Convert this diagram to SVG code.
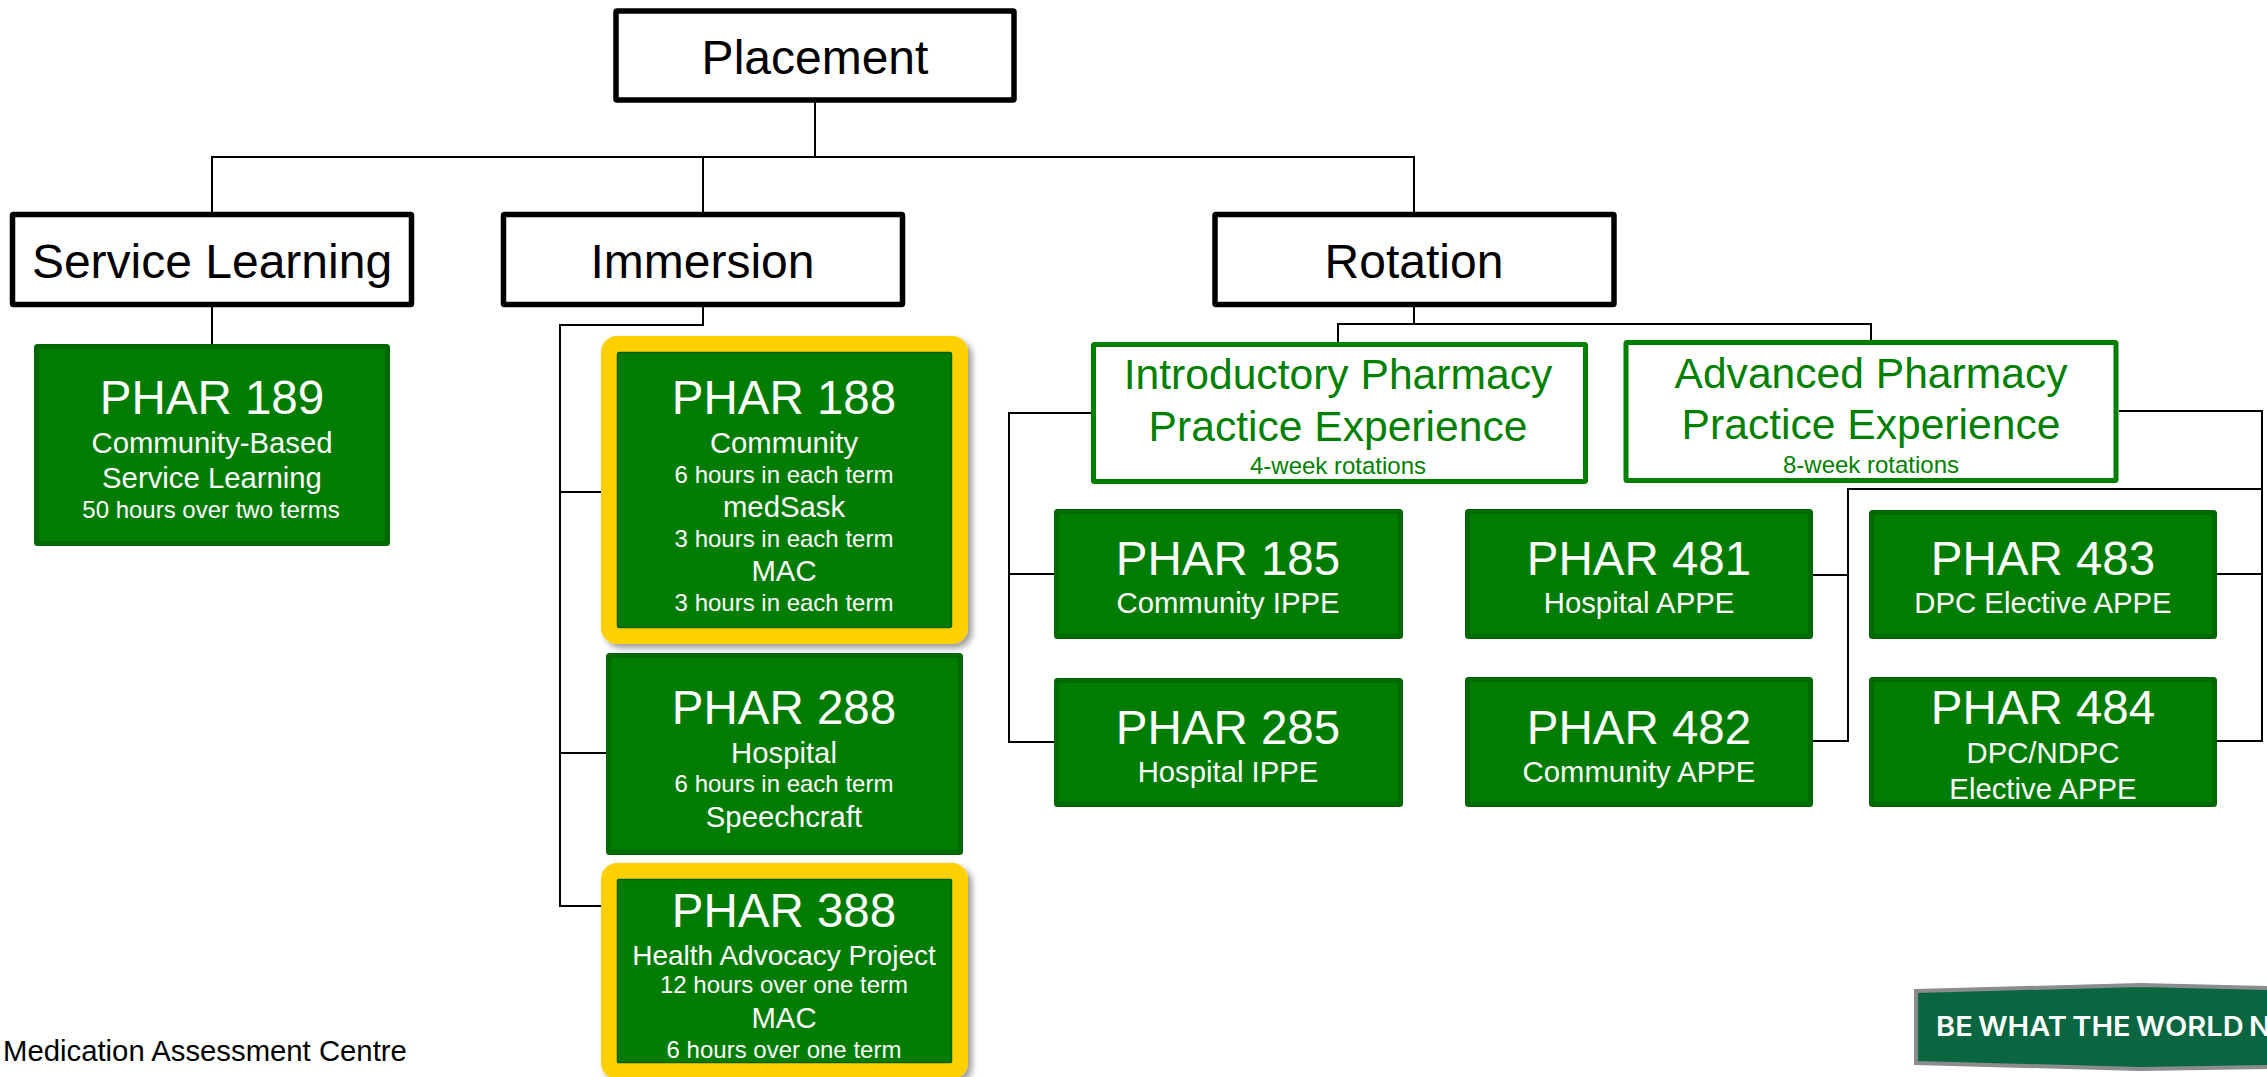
<svg xmlns="http://www.w3.org/2000/svg" width="2267" height="1077" viewBox="0 0 2267 1077">
<defs>
<style>
text{font-family:"Liberation Sans",Arial,sans-serif;text-anchor:middle}
.head{fill:#fff;stroke:#000;stroke-width:5.5}
.head-t{font-size:48px;fill:#000;transform:translateY(.7px)}
.sub{fill:#fff;stroke:#007f00;stroke-width:5}
.sub-t{font-size:42.6px;fill:#007f00;transform:translateY(.7px)}
.sub-s{font-size:24px;fill:#007f00;transform:translateY(.7px)}
.card{fill:#007c00;stroke:#006800;stroke-width:5}
.inner{fill:#007c00;stroke:#006000;stroke-width:1.5}
.halo{fill:#ffd006;filter:url(#sh)}
.t1{font-size:47.5px;fill:#fff;transform:translateY(.7px)}
.t2{font-size:29.3px;fill:#fff}
.t3{font-size:24px;fill:#fff}
#connectors path{fill:none;stroke:#000;stroke-width:2}
</style>
<filter id="sh" x="-5%" y="-5%" width="115%" height="115%"><feDropShadow dx="4" dy="4" stdDeviation="3" flood-color="#000" flood-opacity=".4"/></filter>
</defs>
<rect width="2267" height="1077" fill="#fff"/>
<g id="connectors">
<path d="M815 101V157M212 212V157H1414V212M703 157V212"/>
<path d="M212 307V344"/>
<path d="M703 307V325H560V906H601M560 492H601M560 753H606"/>
<path d="M1414 307V325M1338 342V324H1871V340"/>
<path d="M1091 413H1009V742H1054M1009 574H1054"/>
<path d="M2119 411H2262V741H2217M2262 574H2217M2262 489H1848V741H1813M1848 575H1813"/>
</g>
<g id="placement"><rect class="head" x="616" y="11" width="398" height="89" rx="1"/><text class="head-t" x="815" y="73">Placement</text></g>
<g id="service-learning"><rect class="head" x="12.500" y="214.500" width="399" height="90" rx="1"/><text class="head-t" x="212" y="277">Service Learning</text></g>
<g id="immersion"><rect class="head" x="503.500" y="214.500" width="399" height="90" rx="1"/><text class="head-t" x="702.500" y="277">Immersion</text></g>
<g id="rotation"><rect class="head" x="1215" y="214.500" width="399" height="90" rx="1"/><text class="head-t" x="1414" y="277">Rotation</text></g>
<g id="ippe"><rect class="sub" x="1093.500" y="344.500" width="492" height="137" rx="1"/><text class="sub-t" x="1338" y="388">Introductory Pharmacy</text><text class="sub-t" x="1338" y="440">Practice Experience</text><text class="sub-s" x="1338" y="473">4-week rotations</text></g>
<g id="appe"><rect class="sub" x="1626" y="342.500" width="490" height="138" rx="1"/><text class="sub-t" x="1871" y="387">Advanced Pharmacy</text><text class="sub-t" x="1871" y="438">Practice Experience</text><text class="sub-s" x="1871" y="472">8-week rotations</text></g>
<g id="phar189"><rect class="card" x="36.500" y="346.500" width="351" height="197" rx="1"/><text class="t1" x="212" y="413">PHAR 189</text><text class="t2" x="212" y="453">Community-Based</text><text class="t2" x="212" y="488">Service Learning</text><text class="t3" x="211" y="518">50 hours over two terms</text></g>
<g id="phar188"><rect class="halo" x="601" y="336" width="367" height="308" rx="16"/><rect class="inner" x="617.500" y="352.500" width="334" height="275" rx="2"/><text class="t1" x="784" y="413">PHAR 188</text><text class="t2" x="784" y="453">Community</text><text class="t3" x="784" y="483">6 hours in each term</text><text class="t2" x="784" y="517">medSask</text><text class="t3" x="784" y="547">3 hours in each term</text><text class="t2" x="784" y="581">MAC</text><text class="t3" x="784" y="611">3 hours in each term</text></g>
<g id="phar288"><rect class="card" x="608.500" y="655.500" width="352" height="197" rx="1"/><text class="t1" x="784" y="723">PHAR 288</text><text class="t2" x="784" y="763">Hospital</text><text class="t3" x="784" y="792">6 hours in each term</text><text class="t2" x="784" y="827">Speechcraft</text></g>
<g id="phar388"><rect class="halo" x="601" y="863" width="367" height="216" rx="16"/><rect class="inner" x="617.500" y="879.500" width="334" height="183" rx="1"/><text class="t1" x="784" y="926">PHAR 388</text><text class="t2" x="784" y="965" style="font-size:28px">Health Advocacy Project</text><text class="t3" x="784" y="993">12 hours over one term</text><text class="t2" x="784" y="1028">MAC</text><text class="t3" x="784" y="1058">6 hours over one term</text></g>
<g id="phar185"><rect class="card" x="1056.500" y="511.500" width="344" height="125" rx="1"/><text class="t1" x="1228" y="574">PHAR 185</text><text class="t2" x="1228" y="613">Community IPPE</text></g>
<g id="phar285"><rect class="card" x="1056.500" y="680.500" width="344" height="124" rx="1"/><text class="t1" x="1228" y="743">PHAR 285</text><text class="t2" x="1228" y="782">Hospital IPPE</text></g>
<g id="phar481"><rect class="card" x="1467.500" y="511.500" width="343" height="125" rx="1"/><text class="t1" x="1639" y="574">PHAR 481</text><text class="t2" x="1639" y="613">Hospital APPE</text></g>
<g id="phar482"><rect class="card" x="1467.500" y="679.500" width="343" height="125" rx="1"/><text class="t1" x="1639" y="743">PHAR 482</text><text class="t2" x="1639" y="782">Community APPE</text></g>
<g id="phar483"><rect class="card" x="1871.500" y="512.500" width="343" height="124" rx="1"/><text class="t1" x="2043" y="574">PHAR 483</text><text class="t2" x="2043" y="613">DPC Elective APPE</text></g>
<g id="phar484"><rect class="card" x="1871.500" y="679.500" width="343" height="125" rx="1"/><text class="t1" x="2043" y="723">PHAR 484</text><text class="t2" x="2043" y="763">DPC/NDPC</text><text class="t2" x="2043" y="799">Elective APPE</text></g>
<g id="footnote"><text x="3" y="1061" style="text-anchor:start;font-size:29.3px;fill:#000">Medication Assessment Centre</text></g>
<g id="banner"><polygon points="1916,991 2140,985 2270,988 2270,1067 2140,1069 1916,1063" fill="#0a6640" stroke="#8a8c8e" stroke-width="4"/><text x="1936" y="1036" textLength="335" lengthAdjust="spacingAndGlyphs" style="text-anchor:start;font-family:Inter,'Liberation Sans',sans-serif;font-weight:600;font-size:27.500px;fill:#fff;word-spacing:-2px">BE WHAT THE WORLD N</text></g>
</svg>
